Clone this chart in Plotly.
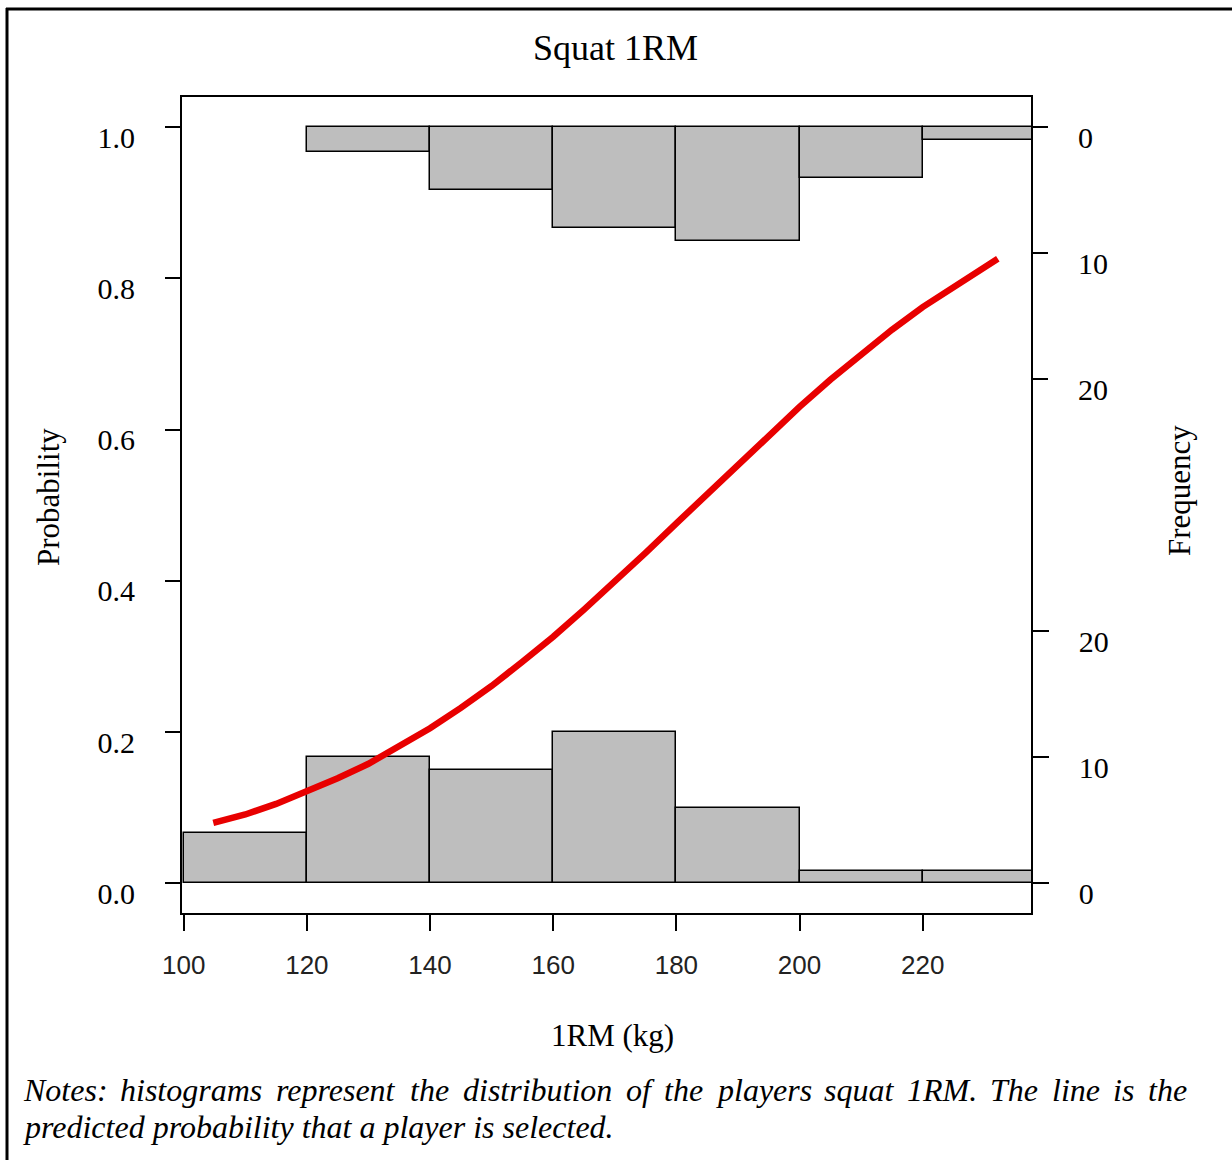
import plotly.graph_objects as go

# ---------------- data ----------------
bin_edges = [100, 120, 140, 160, 180, 200, 220, 240]
freq_bottom = [4, 10, 9, 12, 6, 1, 1]     # histogram drawn upward from 0
freq_top = [0, 2, 5, 8, 9, 4, 1]          # histogram hanging down from 1

curve_x = [104.8, 110, 115, 120, 125, 130, 135, 140, 145, 150, 155, 160, 165,
           170, 175, 180, 185, 190, 195, 200, 205, 210, 215, 220, 225, 230, 232.2]
curve_p = [0.080, 0.091, 0.105, 0.121, 0.139, 0.158, 0.181, 0.205, 0.232, 0.261,
           0.293, 0.326, 0.362, 0.399, 0.437, 0.476, 0.515, 0.554, 0.593, 0.630,
           0.666, 0.700, 0.732, 0.762, 0.789, 0.814, 0.826]

x_ticks = [100, 120, 140, 160, 180, 200, 220]
prob_ticks = [0.0, 0.2, 0.4, 0.6, 0.8, 1.0]
prob_ticklabels = ["0.0", "0.2", "0.4", "0.6", "0.8", "1.0"]
freq_ticks = [0, 10, 20]

title_text = "Squat 1RM"
x_title = "1RM (kg)"
y_left_title = "Probability"
y_right_title = "Frequency"
notes_line1 = ["Notes:", "histograms", "represent", "the", "distribution", "of", "the",
               "players", "squat", "1RM.", "The", "line", "is", "the"]
notes_line2 = "predicted probability that a player is selected."

# ---------------- layout geometry (pixels) ----------------
W, H = 1232, 1160
ML, MR, MT, MB = 182, 201, 97, 247
PW, PH = W - ML - MR, H - MT - MB

def px(x):
    return (x - ML) / PW

def py(y):
    return (H - MB - y) / PH

SERIF = "Liberation Serif, Times New Roman, serif"
SANS = "Liberation Sans, Arial, sans-serif"
GRAY = "#BEBEBE"

centers = [(a + b) / 2 for a, b in zip(bin_edges[:-1], bin_edges[1:])]
widths = [b - a for a, b in zip(bin_edges[:-1], bin_edges[1:])]

# empty bins are not drawn (as in R's hist)
bot = [(c, f, w) for c, f, w in zip(centers, freq_bottom, widths) if f > 0]
top = [(c, f, w) for c, f, w in zip(centers, freq_top, widths) if f > 0]

fig = go.Figure()
fig.add_trace(go.Bar(x=[b[0] for b in bot], y=[b[1] for b in bot], width=[b[2] for b in bot],
                     yaxis="y",
                     marker=dict(color=GRAY, line=dict(color="black", width=1.5)),
                     showlegend=False))
fig.add_trace(go.Bar(x=[t[0] for t in top], y=[t[1] for t in top], width=[t[2] for t in top],
                     yaxis="y2",
                     marker=dict(color=GRAY, line=dict(color="black", width=1.5)),
                     showlegend=False))
fig.add_trace(go.Scatter(x=curve_x, y=curve_p, mode="lines", yaxis="y3",
                         line=dict(color="rgb(232,0,0)", width=6.5),
                         showlegend=False))

x_range = [99.72, 237.59]
prob_range = [-0.0393, 1.0399]
fpp = 756.1 / 60.0  # pixels per frequency unit
freq_bottom_range = [-29.7 / fpp, (PH - 29.7) / fpp]
freq_top_range = [(PH - 30.2) / fpp, -30.2 / fpp]

tick_common = dict(ticks="outside", ticklen=16, tickwidth=1.5, tickcolor="black",
                   showgrid=False, zeroline=False)

annotations = [
    dict(text=title_text, x=px(615), y=py(48), xref="paper", yref="paper",
         showarrow=False, xanchor="center", yanchor="middle",
         font=dict(family=SERIF, size=36, color="black")),
    dict(text=x_title, x=px(612), y=py(1035), xref="paper", yref="paper",
         showarrow=False, xanchor="center", yanchor="middle",
         font=dict(family=SERIF, size=31, color="black")),
    dict(text=y_left_title, x=px(48), y=py(497), xref="paper", yref="paper",
         showarrow=False, xanchor="center", yanchor="middle", textangle=-90,
         font=dict(family=SERIF, size=31, color="black")),
    dict(text=y_right_title, x=px(1180), y=py(491), xref="paper", yref="paper",
         showarrow=False, xanchor="center", yanchor="middle", textangle=-90,
         font=dict(family=SERIF, size=31, color="black")),
]
word_x = [21, 118, 274, 408, 461, 624, 662, 714, 822, 905, 988, 1050, 1111, 1146]
for w, wx in zip(notes_line1, word_x):
    annotations.append(dict(text="<i>" + w + "</i>", x=px(wx), y=py(1090), xref="paper",
                            yref="paper", showarrow=False, xanchor="left", yanchor="middle",
                            font=dict(family=SERIF, size=32, color="black")))
annotations.append(dict(text="<i>" + notes_line2 + "</i>", x=px(21), y=py(1127),
                        xref="paper", yref="paper", showarrow=False, xanchor="left",
                        yanchor="middle", font=dict(family=SERIF, size=32, color="black")))

shapes = [
    dict(type="line", xref="paper", yref="paper", x0=px(7), x1=px(7), y0=py(8), y1=py(1165),
         line=dict(color="black", width=3)),
    dict(type="line", xref="paper", yref="paper", x0=px(6), x1=px(1240), y0=py(9), y1=py(9),
         line=dict(color="black", width=3)),
]

fig.update_layout(
    width=W, height=H,
    margin=dict(l=ML, r=MR, t=MT, b=MB, autoexpand=False),
    paper_bgcolor="white", plot_bgcolor="white",
    barmode="overlay", bargap=0,
    xaxis=dict(range=x_range, tickvals=x_ticks, showline=True, mirror=True,
               linecolor="black", linewidth=1.5,
               tickfont=dict(family=SANS, size=26, color="#222222"),
               ticklabelstandoff=12, **tick_common),
    yaxis=dict(range=freq_bottom_range, side="right", tickvals=freq_ticks,
               showline=True, mirror=True, linecolor="black", linewidth=1.5,
               tickfont=dict(family=SERIF, size=30, color="black"),
               ticklabelstandoff=24, ticklabelshift=10, **tick_common),
    yaxis2=dict(range=freq_top_range, side="right", overlaying="y", anchor="x",
                tickvals=freq_ticks, showline=False,
                tickfont=dict(family=SERIF, size=30, color="black"),
                ticklabelstandoff=24, ticklabelshift=-10, **tick_common),
    yaxis3=dict(range=prob_range, side="left", overlaying="y", anchor="x",
                tickvals=prob_ticks, ticktext=prob_ticklabels, showline=False,
                tickfont=dict(family=SERIF, size=30, color="black"),
                ticklabelstandoff=24, ticklabelshift=10, **tick_common),
    annotations=annotations,
    shapes=shapes,
)

fig.write_html("out.html")
